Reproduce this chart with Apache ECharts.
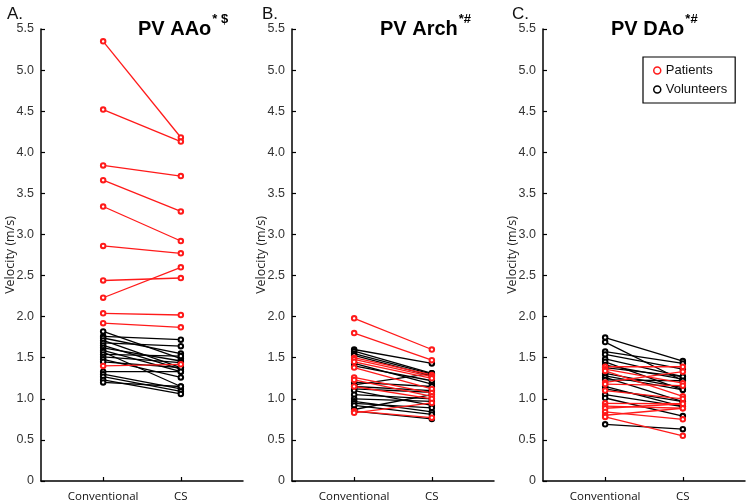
<!DOCTYPE html>
<html><head><meta charset="utf-8">
<script src="https://cdn.jsdelivr.net/npm/echarts@6/dist/echarts.min.js"></script>
<style>html,body{margin:0;padding:0;background:#fff}#c{width:750px;height:504px}</style>
</head><body><div id="c"></div>
<script>
const categories = ['Conventional', 'CS'];
const yTickLabels = ['0','0.5','1.0','1.5','2.0','2.5','3.0','3.5','4.0','4.5','5.0','5.5'];
const panelLetters = ['A.', 'B.', 'C.'];
const panelTitles = ['PV AAo', 'PV Arch', 'PV DAo'];
const panelMarks = ['* $', '*#', '*#'];
// [conventional, CS] pairs
const aaoPatients = [[5.35,4.18],[4.52,4.13],[3.84,3.71],[3.66,3.28],[3.34,2.92],[2.86,2.77],[2.44,2.47],[2.23,2.60],[2.04,2.02],[1.92,1.87],[1.40,1.42]];
const aaoVolunteers = [[1.82,1.49],[1.76,1.72],[1.74,1.55],[1.71,1.38],[1.68,1.64],[1.65,1.36],[1.62,1.46],[1.59,1.33],[1.57,1.15],[1.54,1.52],[1.51,1.44],[1.48,1.26],[1.45,1.38],[1.33,1.33],[1.30,1.12],[1.27,1.09],[1.23,1.06],[1.20,1.15]];
const archPatients = [[1.98,1.60],[1.80,1.47],[1.50,1.29],[1.48,1.27],[1.45,1.25],[1.38,1.12],[1.26,1.07],[1.23,1.03],[1.15,1.00],[0.85,0.77],[0.83,0.95]];
const archVolunteers = [[1.60,1.43],[1.58,1.31],[1.55,1.30],[1.53,1.28],[1.43,1.18],[1.40,1.22],[1.20,1.15],[1.17,1.31],[1.15,1.10],[1.12,1.08],[1.10,0.92],[1.05,1.00],[1.00,0.97],[0.97,0.84],[0.945,0.89],[0.92,0.81],[0.87,1.05],[0.85,0.755]];
const daoPatients = [[1.39,1.39],[1.36,1.19],[1.34,1.03],[1.20,1.33],[1.18,1.16],[1.10,1.00],[0.945,0.94],[0.91,0.885],[0.885,0.94],[0.84,0.75],[0.80,0.885],[0.78,0.55]];
const daoVolunteers = [[1.745,1.46],[1.69,1.22],[1.575,1.43],[1.54,1.36],[1.485,1.27],[1.45,1.11],[1.41,1.24],[1.38,1.27],[1.31,1.135],[1.28,1.11],[1.26,0.965],[1.23,1.22],[1.15,0.905],[1.12,0.965],[1.05,0.905],[1.01,0.79],[0.69,0.63]];

const panels = [
  {patients: aaoPatients, volunteers: aaoVolunteers},
  {patients: archPatients, volunteers: archVolunteers},
  {patients: daoPatients, volunteers: daoVolunteers}
];
const RED = '#ff1a1a', BLACK = '#000';
const gridLefts = [41, 292, 543];
const grids = [], xAxes = [], yAxes = [], series = [], graphics = [];
panels.forEach((p, i) => {
  grids.push({left: gridLefts[i], width: 202, top: 29, bottom: 23});
  xAxes.push({
    type: 'value', gridIndex: i, min: 0.2, max: 2.8,
    splitLine: {show: false},
    axisLine: {show: true, lineStyle: {color: '#000', width: 1.5}},
    axisTick: {show: true, inside: true, length: 4, customValues: [1, 2], lineStyle: {color: '#000', width: 1.2}},
    axisLabel: {customValues: [1, 2], formatter: v => categories[Math.round(v) - 1] || '', margin: 10,
      fontFamily: 'Open Sans', fontSize: 11.5, color: '#111'}
  });
  yAxes.push({
    type: 'value', gridIndex: i, min: 0, max: 5.5, interval: 0.5,
    name: 'Velocity (m/s)', nameLocation: 'middle', nameGap: 24, nameMoveOverlap: false,
    nameTextStyle: {fontFamily: 'Open Sans', fontSize: 12.5, color: '#222'},
    splitLine: {show: false},
    axisLine: {show: true, lineStyle: {color: '#000', width: 1.5}},
    axisTick: {show: true, inside: true, length: 4, lineStyle: {color: '#000', width: 1.2}},
    axisLabel: {formatter: v => yTickLabels[Math.round(v * 2)], margin: 7,
      fontFamily: 'Liberation Sans', fontSize: 12.5, color: '#333'}
  });
  const add = (arr, name, color) => arr.forEach(pair => {
    series.push({
      type: 'line', name: name, xAxisIndex: i, yAxisIndex: i,
      data: pair.map((v, k) => [k + 1, v]),
      symbol: 'emptyCircle', symbolSize: 4.5, silent: true, animation: false,
      itemStyle: {color: color, borderWidth: 1.2},
      lineStyle: {color: color, width: 1.3}
    });
  });
  add(p.volunteers, 'Volunteers', BLACK);
  add(p.patients, 'Patients', RED);
  graphics.push({type: 'text', left: [7, 262, 512][i], top: 6,
    style: {text: panelLetters[i], font: '17px "Liberation Sans"', fill: '#111'}});
});
const titleFont = 'bold 20px "Liberation Sans"';
const ctx = document.createElement('canvas').getContext('2d');
ctx.font = titleFont;
const titleX = [138, 380, 611];
panelTitles.forEach((t, i) => {
  const w = ctx.measureText(t).width;
  graphics.push({type: 'text', left: titleX[i], top: 19,
    style: {text: t, font: titleFont, fill: '#000'}});
  graphics.push({type: 'text', left: titleX[i] + w + 1, top: 13,
    style: {text: panelMarks[i], font: 'bold 13px "Liberation Sans"', fill: '#000'}});
});

const chart = echarts.init(document.getElementById('c'), null, {renderer: 'canvas'});
chart.setOption({
  animation: false,
  grid: grids, xAxis: xAxes, yAxis: yAxes, series: series, graphic: graphics,
  legend: {
    orient: 'vertical', left: 643, top: 57, selectedMode: false,
    padding: [7, 8, 7, 10], itemGap: 6, itemWidth: 7, itemHeight: 7,
    borderColor: '#000', borderWidth: 1.2,
    textStyle: {fontFamily: 'Liberation Sans', fontSize: 13, color: '#111'},
    data: [
      {name: 'Patients', icon: 'circle', itemStyle: {color: '#fff', borderColor: RED, borderWidth: 1.5}},
      {name: 'Volunteers', icon: 'circle', itemStyle: {color: '#fff', borderColor: BLACK, borderWidth: 1.5}}
    ]
  }
});
</script></body></html>
